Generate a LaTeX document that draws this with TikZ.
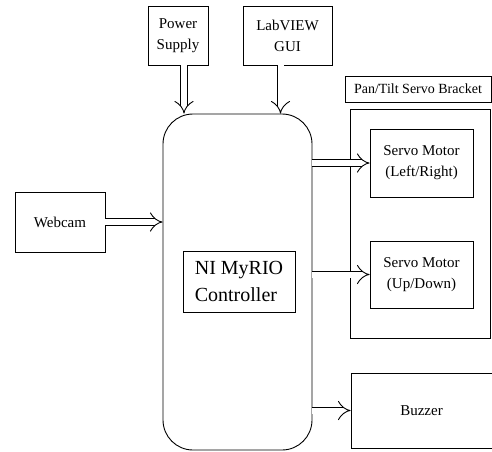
\documentclass[tikz,border=0pt]{standalone}
\usepackage{fontspec}
\setmainfont{Liberation Serif}
\usetikzlibrary{arrows.meta, positioning}
\tikzset{
  block/.style={rectangle, draw, align=center, inner sep=2pt, line width=0.9pt,
                font=\fontsize{15}{21}\selectfont},
  pipe/.style={draw, double, double distance=6pt, line width=0.9pt,
               -{Implies[length=6pt, width=12pt]}},
}

\begin{document}
\begin{tikzpicture}[x=1pt, y=-1pt]
  \useasboundingbox (0,0) rectangle (492,451);
  \node[block, minimum width=60pt, minimum height=59pt] (power) at (178,35.5) {Power\\Supply};
  \node[block, minimum width=89pt, minimum height=59pt] (gui) at (287.5,35.5) {LabVIEW\\GUI};
  \node[block, minimum width=90pt, minimum height=60pt] (webcam) at (60,222) {Webcam};
  \node[block, rounded corners=30pt, minimum width=149pt, minimum height=336pt] (ctrl) at (237.5,282) {};
  \node[block, align=left, minimum width=112pt, minimum height=61pt,
        font=\fontsize{20}{27}\selectfont] (ctrllabel) at (239,281.5) {NI MyRIO\\Controller};
  \node[block, minimum width=146pt, minimum height=26pt,
        font=\fontsize{14}{16}\selectfont] (bracketlabel) at (418,89) {Pan/Tilt Servo Bracket};
  \node[block, minimum width=140pt, minimum height=229pt] (bracket) at (420,223.5) {};
  \node[block, minimum width=103pt, minimum height=68pt] (servolr) at (421.5,163) {Servo Motor\\(Left/Right)};
  \node[block, minimum width=103pt, minimum height=67pt] (servoud) at (421.5,274.5) {Servo Motor\\(Up/Down)};
  \node[block, minimum width=141pt, minimum height=75pt] (buzzer) at (421.5,410.5) {Buzzer};

  \draw[pipe] ([xshift=6pt]power.south) -- ([xshift=6pt]power.south |- ctrl.north);
  \draw[pipe] ([xshift=-7pt]gui.south) -- ([xshift=-7pt]gui.south |- ctrl.north);
  \draw[pipe] (webcam.east) -- (webcam.east -| ctrl.west);
  \draw[pipe] (ctrl.east |- servolr.west) -- (servolr.west);
  \draw[pipe] (ctrl.east |- servoud.west) -- (servoud.west);
  \draw[pipe] (ctrl.east |- buzzer.west) -- (buzzer.west);
\end{tikzpicture}
\end{document}
